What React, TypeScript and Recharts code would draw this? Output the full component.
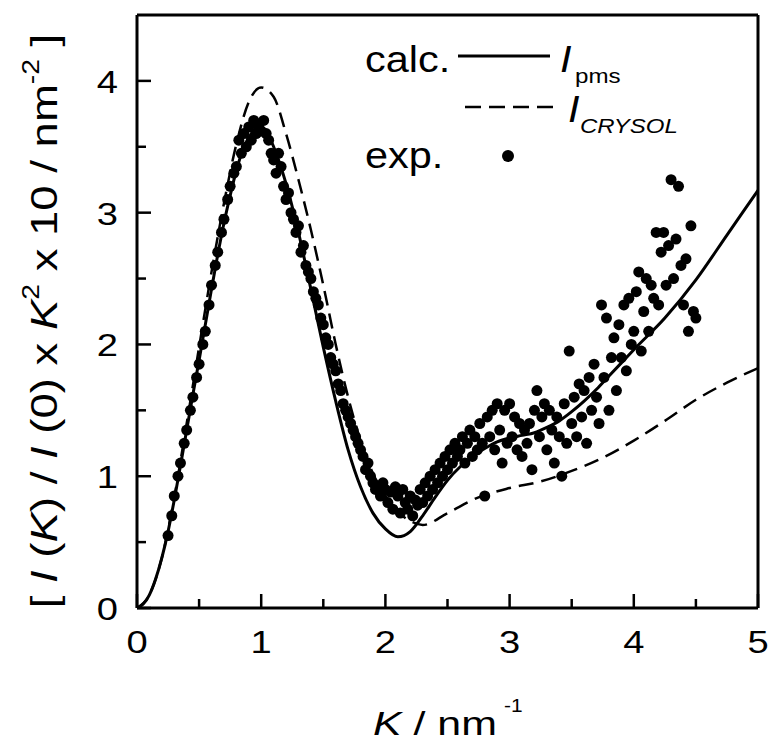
import React from 'react';
import { ComposedChart, Line, Scatter, XAxis, YAxis, ReferenceLine } from 'recharts';

// I_pms (solid)
const pmsK = [0, 0.05, 0.1, 0.15, 0.2, 0.25, 0.3, 0.35, 0.4, 0.45, 0.5, 0.55, 0.6, 0.65, 0.7, 0.75, 0.8, 0.85, 0.9, 0.95, 1.0, 1.05, 1.1, 1.2, 1.3, 1.4, 1.5, 1.6, 1.7, 1.8, 1.9, 2.0, 2.1, 2.2, 2.3, 2.4, 2.5, 2.6, 2.7, 2.8, 2.9, 3.0, 3.1, 3.2, 3.3, 3.4, 3.5, 3.6, 3.7, 3.8, 3.9, 4.0, 4.25, 4.5, 4.75, 5.0];
const pmsV = [0, 0.03, 0.1, 0.22, 0.38, 0.58, 0.82, 1.08, 1.35, 1.62, 1.88, 2.15, 2.42, 2.68, 2.92, 3.13, 3.32, 3.47, 3.57, 3.63, 3.64, 3.6, 3.5, 3.22, 2.85, 2.42, 1.98, 1.57, 1.2, 0.92, 0.72, 0.6, 0.54, 0.58, 0.7, 0.84, 0.97, 1.07, 1.15, 1.21, 1.26, 1.29, 1.31, 1.33, 1.37, 1.42, 1.49, 1.57, 1.66, 1.76, 1.86, 1.96, 2.2, 2.49, 2.83, 3.17];

// I_CRYSOL (dashed)
const crysolK = [0, 0.1, 0.2, 0.3, 0.4, 0.5, 0.6, 0.7, 0.8, 0.9, 1.0, 1.1, 1.2, 1.3, 1.4, 1.5, 1.6, 1.7, 1.8, 1.9, 2.0, 2.1, 2.2, 2.3, 2.5, 2.75, 3.0, 3.25, 3.5, 3.75, 4.0, 4.25, 4.5, 4.75, 5.0];
const crysolV = [0, 0.1, 0.38, 0.84, 1.4, 1.98, 2.55, 3.07, 3.52, 3.84, 3.95, 3.88, 3.6, 3.25, 2.87, 2.45, 2.0, 1.6, 1.27, 1.02, 0.85, 0.73, 0.66, 0.63, 0.72, 0.84, 0.91, 0.96, 1.04, 1.14, 1.27, 1.42, 1.58, 1.71, 1.82];

// experimental points
const expK = [0.25, 0.28, 0.3, 0.33, 0.35, 0.38, 0.4, 0.43, 0.45, 0.48, 0.5, 0.53, 0.55, 0.58, 0.6, 0.63, 0.65, 0.68, 0.7, 0.73, 0.75, 0.78, 0.8, 0.82, 0.84, 0.86, 0.88, 0.9, 0.92, 0.94, 0.96, 0.98, 1.0, 1.02, 1.04, 1.06, 1.08, 1.1, 1.12, 1.14, 1.16, 1.18, 1.2, 1.22, 1.24, 1.26, 1.28, 1.3, 1.32, 1.34, 1.36, 1.38, 1.4, 1.42, 1.44, 1.46, 1.48, 1.5, 1.52, 1.54, 1.56, 1.58, 1.6, 1.62, 1.64, 1.66, 1.68, 1.7, 1.72, 1.74, 1.76, 1.78, 1.8, 1.82, 1.84, 1.86, 1.88, 1.9, 1.92, 1.94, 1.96, 1.98, 2.0, 2.02, 2.04, 2.06, 2.08, 2.1, 2.12, 2.14, 2.16, 2.18, 2.2, 2.22, 2.24, 2.26, 2.28, 2.3, 2.32, 2.34, 2.36, 2.38, 2.4, 2.42, 2.44, 2.46, 2.48, 2.5, 2.52, 2.54, 2.56, 2.58, 2.6, 2.62, 2.64, 2.66, 2.68, 2.7, 2.72, 2.74, 2.76, 2.78, 2.8, 2.82, 2.84, 2.86, 2.88, 2.9, 2.92, 2.94, 2.96, 2.98, 3.0, 3.02, 3.04, 3.06, 3.08, 3.1, 3.12, 3.14, 3.16, 3.18, 3.2, 3.22, 3.24, 3.26, 3.28, 3.3, 3.32, 3.34, 3.36, 3.38, 3.4, 3.42, 3.44, 3.46, 3.48, 3.5, 3.52, 3.54, 3.56, 3.58, 3.6, 3.62, 3.64, 3.66, 3.68, 3.7, 3.72, 3.74, 3.76, 3.78, 3.8, 3.82, 3.84, 3.86, 3.88, 3.9, 3.92, 3.94, 3.96, 3.98, 4.0, 4.02, 4.04, 4.06, 4.08, 4.1, 4.12, 4.14, 4.16, 4.18, 4.2, 4.22, 4.24, 4.26, 4.28, 4.3, 4.32, 4.34, 4.36, 4.38, 4.4, 4.42, 4.44, 4.46, 4.48, 4.5];
const expV = [0.55, 0.7, 0.85, 1.0, 1.1, 1.25, 1.35, 1.5, 1.6, 1.75, 1.85, 2.0, 2.1, 2.3, 2.45, 2.6, 2.7, 2.85, 2.95, 3.1, 3.2, 3.3, 3.35, 3.55, 3.45, 3.6, 3.5, 3.65, 3.55, 3.7, 3.6, 3.65, 3.62, 3.7, 3.6, 3.55, 3.45, 3.4, 3.3, 3.45, 3.35, 3.2, 3.1, 3.15, 3.0, 2.95, 2.85, 2.9, 2.7, 2.75, 2.6, 2.55, 2.5, 2.4, 2.35, 2.3, 2.2, 2.15, 2.05, 2.0, 1.9, 1.85, 1.8, 1.7, 1.65, 1.55, 1.5, 1.45, 1.4, 1.35, 1.3, 1.25, 1.2, 1.15, 1.05, 1.1, 1.0, 0.95, 0.9, 0.92, 0.85, 0.95, 0.9, 0.8, 0.88, 0.75, 0.92, 0.85, 0.72, 0.9, 0.8, 0.75, 0.85, 0.7, 0.82, 0.78, 0.9, 0.8, 0.95, 0.85, 1.0, 0.9, 1.05, 0.95, 1.1, 1.0, 1.15, 1.05, 1.2, 1.1, 1.25, 1.15, 1.2, 1.3, 1.1, 1.25, 1.35, 1.15, 1.3, 1.2, 1.4, 1.25, 0.85, 1.45, 1.3, 1.5, 1.2, 1.55, 1.35, 1.1, 1.5, 1.25, 1.55, 1.3, 1.45, 1.2, 1.4, 1.15, 1.35, 1.25, 1.4, 1.05, 1.5, 1.65, 1.3, 1.45, 1.55, 1.2, 1.5, 1.35, 1.1, 1.45, 1.3, 1.0, 1.55, 1.25, 1.95, 1.4, 1.6, 1.3, 1.7, 1.45, 1.65, 1.25, 1.75, 1.5, 1.85, 1.6, 1.4, 2.3, 1.75, 2.2, 1.5, 1.9, 2.05, 1.65, 2.15, 1.9, 2.3, 1.8, 2.35, 2.0, 2.1, 2.4, 2.55, 1.95, 2.25, 2.5, 2.1, 2.45, 2.35, 2.85, 2.3, 2.7, 2.85, 2.45, 2.75, 3.25, 2.5, 2.8, 3.2, 2.6, 2.3, 2.65, 2.1, 2.9, 2.25, 2.2];

const xTicks = [0, 0.5, 1, 1.5, 2, 2.5, 3, 3.5, 4, 4.5, 5];
const yTicks = [0, 0.5, 1, 1.5, 2, 2.5, 3, 3.5, 4];

const pmsData = pmsK.map((k, i) => ({ k, v: pmsV[i] }));
const crysolData = crysolK.map((k, i) => ({ k, v: crysolV[i] }));
const expData = expK.map((k, i) => ({ k, v: expV[i] }));

const FONT = 'Arial, "Liberation Sans", Helvetica, sans-serif';
const STRETCH = 1.23;

const XTick = (props: any) => {
  const { x, y, payload } = props;
  const major = Number.isInteger(payload.value);
  return (
    <g>
      <line x1={x} x2={x} y1={y} y2={y - (major ? 14 : 9)} stroke="#000" strokeWidth={2.5} />
      {major && (
        <text
          transform={`translate(${x},${y + 45}) scale(${STRETCH},1)`}
          textAnchor="middle"
          fontSize={31}
          fontFamily={FONT}
          fill="#000"
        >
          {payload.value}
        </text>
      )}
    </g>
  );
};

const YTick = (props: any) => {
  const { x, y, payload } = props;
  const major = Number.isInteger(payload.value);
  return (
    <g>
      <line x1={x} x2={x + (major ? 14 : 9)} y1={y} y2={y} stroke="#000" strokeWidth={2.5} />
      {major && (
        <text
          transform={`translate(${x - 19},${y + 12}) scale(${STRETCH},1)`}
          textAnchor="end"
          fontSize={31}
          fontFamily={FONT}
          fill="#000"
        >
          {payload.value}
        </text>
      )}
    </g>
  );
};

const YTitle = () => (
  <text
    transform={`translate(57,321) rotate(-90) scale(${STRETCH},1)`}
    textAnchor="middle"
    fontSize={37}
    fontFamily={FONT}
    fill="#000"
  >
    <tspan>[ </tspan>
    <tspan fontStyle="italic">I</tspan>
    <tspan> (</tspan>
    <tspan fontStyle="italic">K</tspan>
    <tspan>) / </tspan>
    <tspan fontStyle="italic">I</tspan>
    <tspan> (0) x </tspan>
    <tspan fontStyle="italic">K</tspan>
    <tspan dy={-18} fontSize={23}>2</tspan>
    <tspan dy={18}> x 10 / nm</tspan>
    <tspan dy={-18} fontSize={23}>-2</tspan>
    <tspan dy={18}> ]</tspan>
  </text>
);

const XTitle = () => (
  <g>
    <text
      transform="translate(373,735) scale(1.3,1)"
      textAnchor="start"
      fontSize={33}
      fontFamily={FONT}
      fill="#000"
    >
      <tspan fontStyle="italic">K</tspan>
      <tspan> / nm</tspan>
    </text>
    <text transform="translate(504,712) scale(1.1,1)" fontSize={19} fontFamily={FONT} fill="#000">
      -1
    </text>
  </g>
);

const LegendBox = () => (
  <svg width={771} height={742} style={{ position: 'absolute', left: 0, top: 0, pointerEvents: 'none' }}>
    <text transform="translate(365,72) scale(1.12,1)" fontSize={37} fontFamily={FONT} fill="#000">
      calc.
    </text>
    <line x1={458} x2={550} y1={56} y2={56} stroke="#000" strokeWidth={3} />
    <text transform="translate(560,72) scale(1.12,1)" fontSize={37} fontFamily={FONT} fill="#000" fontStyle="italic">
      I
    </text>
    <text transform="translate(575,83) scale(1.15,1)" fontSize={21} fontFamily={FONT} fill="#000">
      pms
    </text>
    <line x1={465} x2={557} y1={107} y2={107} stroke="#000" strokeWidth={2.5} strokeDasharray="16 8" />
    <text transform="translate(568,122) scale(1.12,1)" fontSize={37} fontFamily={FONT} fill="#000" fontStyle="italic">
      I
    </text>
    <text transform="translate(580,133) scale(1.2,1)" fontSize={20} fontFamily={FONT} fill="#000" fontStyle="italic">
      CRYSOL
    </text>
    <text transform="translate(365,168) scale(1.12,1)" fontSize={37} fontFamily={FONT} fill="#000">
      exp.
    </text>
    <circle cx={508} cy={156} r={6} fill="#000" />
  </svg>
);

export default function App() {
  return (
    <div style={{ position: 'absolute', left: 0, top: 0, width: 771, height: 742, background: '#fff' }}>
      <ComposedChart width={771} height={742} margin={{ top: 15, right: 13, left: 0, bottom: 0 }}>
        <XAxis
          dataKey="k"
          type="number"
          domain={[0, 5]}
          ticks={xTicks}
          interval={0}
          height={134}
          tickSize={0}
          tickMargin={0}
          tickLine={false}
          axisLine={{ stroke: '#000', strokeWidth: 3 }}
          tick={<XTick />}
          allowDataOverflow
          label={<XTitle />}
        />
        <YAxis
          dataKey="v"
          type="number"
          domain={[0, 4.5]}
          ticks={yTicks}
          interval={0}
          width={137}
          tickSize={0}
          tickMargin={0}
          tickLine={false}
          axisLine={{ stroke: '#000', strokeWidth: 3 }}
          tick={<YTick />}
          allowDataOverflow
          label={<YTitle />}
        />
        <ReferenceLine y={4.5} stroke="#000" strokeWidth={3} />
        <ReferenceLine x={5} stroke="#000" strokeWidth={3} />
        <Line
          data={crysolData}
          dataKey="v"
          type="monotone"
          stroke="#000"
          strokeWidth={2.5}
          strokeDasharray="15 8"
          dot={false}
          isAnimationActive={false}
        />
        <Line
          data={pmsData}
          dataKey="v"
          type="monotone"
          stroke="#000"
          strokeWidth={3}
          dot={false}
          isAnimationActive={false}
        />
        <Scatter
          data={expData}
          dataKey="v"
          fill="#000"
          shape={(p: any) => <circle cx={p.cx} cy={p.cy} r={5.5} fill="#000" />}
          isAnimationActive={false}
        />
      </ComposedChart>
      <LegendBox />
    </div>
  );
}
